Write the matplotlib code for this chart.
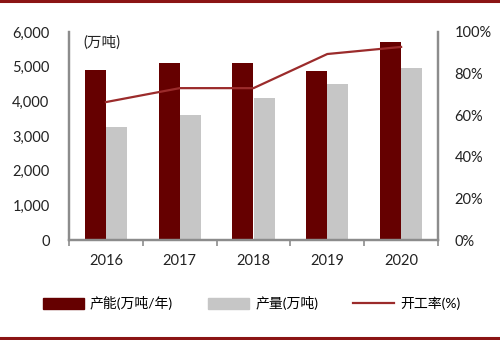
import numpy as np
import matplotlib.pyplot as plt
from matplotlib.lines import Line2D
from matplotlib.patches import Patch

plt.rcParams['font.family'] = ['Lato', 'Noto Sans CJK SC', 'DejaVu Sans']

years = ['2016', '2017', '2018', '2019', '2020']
capacity = [4900, 5100, 5100, 4870, 5700]
output = [3250, 3600, 4100, 4500, 4950]
rate = [66.3, 73.0, 73.0, 89.4, 92.8]

cap_color = '#650000'
out_color = '#C6C6C6'
line_color = '#9B2B2B'
axis_gray = '#8C8C8C'

fig = plt.figure(figsize=(5, 3.4), dpi=100)
ax = fig.add_axes([0.138, 0.294, 0.738, 0.612])
ax2 = ax.twinx()

x = np.arange(len(years))
w = 0.285
ax.bar(x - w / 2, capacity, w, color=cap_color, zorder=2)
ax.bar(x + w / 2, output, w, color=out_color, zorder=2)
ax2.plot(x, rate, color=line_color, lw=1.6, zorder=3)

ax.set_xlim(-0.5, len(years) - 0.5)
ax.set_ylim(0, 6000)
ax2.set_ylim(0, 100)
ax.set_yticks(np.arange(0, 6001, 1000))
ax.set_yticklabels([f'{v:,}' for v in range(0, 6001, 1000)])
ax2.set_yticks(np.arange(0, 101, 20))
ax2.set_yticklabels([f'{v}%' for v in range(0, 101, 20)])

ax.set_xticks(x)
ax.set_xticklabels(years)
ax.set_xticks(np.arange(-0.5, len(years), 1), minor=True)
ax.tick_params(axis='x', which='major', length=0, pad=10, labelsize=10.5, colors='#222222')
ax.tick_params(axis='x', which='minor', length=4, width=1.2, color=axis_gray, direction='out')
ax.tick_params(axis='y', length=0, pad=14, labelsize=10.5, colors='#222222')
ax2.tick_params(axis='y', length=0, pad=12, labelsize=10.5, colors='#222222')

for a in (ax, ax2):
    a.spines['top'].set_visible(False)
    for s in ('left', 'right', 'bottom'):
        a.spines[s].set_color(axis_gray)
        a.spines[s].set_linewidth(1.6)

ax.text(0.04, 0.95, '(万吨)', transform=ax.transAxes, fontsize=10.5,
        va='center', ha='left', color='#222222')

handles = [Patch(color=cap_color), Patch(color=out_color),
           Line2D([], [], color=line_color, lw=1.6)]
labels = ['产能(万吨/年)', '产量(万吨)', '开工率(%)']
fig.legend(handles, labels, loc='center', bbox_to_anchor=(0.503, 0.108), ncol=3,
           frameon=False, fontsize=10, handlelength=3.0, handleheight=0.9,
           handletextpad=0.4, columnspacing=2.5)

fig.add_artist(Line2D([0, 1], [0.997, 0.997], color='#8B1414', lw=2.2,
                      transform=fig.transFigure))
fig.add_artist(Line2D([0, 1], [0.006, 0.006], color='#8B1414', lw=2.2,
                      transform=fig.transFigure))

fig.savefig('out.png', dpi=100)
